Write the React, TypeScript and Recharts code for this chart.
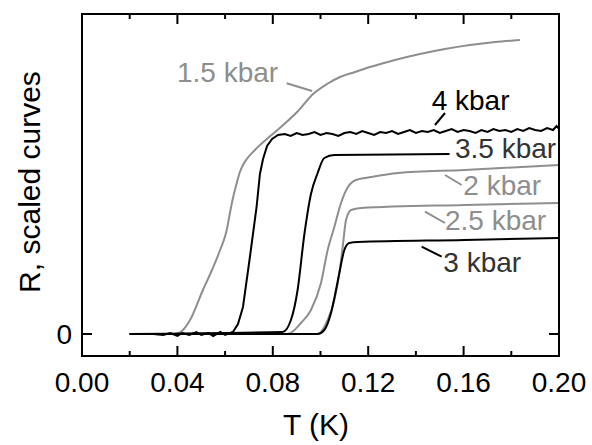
import { LineChart, Line, XAxis, YAxis, ReferenceLine, ReferenceDot } from "recharts";

// temperature (K) and scaled resistance (arb. units, 0 = superconducting)
const t15 = [
  0.02, 0.039, 0.0419, 0.0453, 0.0507, 0.0545, 0.0579, 0.0607, 0.0621, 0.0633, 0.065, 0.0662,
  0.0675, 0.0691, 0.0725, 0.078, 0.0839, 0.0906, 0.0969, 0.1027, 0.1082, 0.1145, 0.1208, 0.1312,
  0.1417, 0.1522, 0.1627, 0.1732, 0.1836,
];
const v15 = [
  0, 0, 3, 14, 44, 64, 84, 104, 122, 136, 152, 162,
  169, 175, 184, 196, 208, 223, 240, 250, 257, 262, 267, 274,
  280, 285, 289, 292, 294,
];

const t2 = [0.02, 0.0862, 0.0918, 0.096, 0.1002, 0.103, 0.1058, 0.1086, 0.1115, 0.1149, 0.1213, 0.1325, 0.1604, 0.2];
const v2 = [0, 0, 11, 24, 51, 84, 107, 131, 147, 154, 157, 161, 164, 169];

const t25 = [0.02, 0.0988, 0.103, 0.1058, 0.1079, 0.1093, 0.1107, 0.1128, 0.117, 0.1604, 0.2];
const v25 = [0, 0, 14, 34, 61, 87, 114, 124, 126, 129, 131];

const t3 = [0.02, 0.0988, 0.1016, 0.1044, 0.1065, 0.1079, 0.11, 0.1121, 0.1157, 0.1604, 0.2];
const v3 = [0, 0, 4, 21, 44, 61, 84, 91, 92, 94, 96];

const t35 = [0.02, 0.0841, 0.0876, 0.0904, 0.0932, 0.096, 0.0988, 0.1016, 0.1058, 0.1541];
const v35 = [0, 2, 14, 44, 99, 140, 161, 176, 179, 180];

const t4 = [
  0.02, 0.03, 0.034, 0.037, 0.04, 0.042, 0.045, 0.048, 0.05, 0.053, 0.055, 0.058, 0.06, 0.062,
  0.0633, 0.0654, 0.0675, 0.0704, 0.0718, 0.0732, 0.0746, 0.0759, 0.0776, 0.0797, 0.0822,
  0.085, 0.0875, 0.09, 0.0925, 0.095, 0.0975, 0.1, 0.1025, 0.105, 0.1075, 0.11, 0.1125,
  0.115, 0.1175, 0.12, 0.1225, 0.125, 0.1275, 0.13, 0.1325, 0.135, 0.1375, 0.14, 0.1425,
  0.145, 0.1475, 0.15, 0.1525, 0.155, 0.1575, 0.16, 0.1625, 0.165, 0.1675, 0.17, 0.1725,
  0.175, 0.1775, 0.18, 0.1825, 0.185, 0.1875, 0.19, 0.1925, 0.195, 0.1975, 0.199, 0.2,
];
const v4 = [
  0, 0, -1, 1, -2, 1, -1, 2, -1, 1, -2, 2, -1, 1,
  2, 10, 27, 77, 102, 127, 160, 175, 188, 195, 199,
  200, 198, 201, 199, 200, 202, 199, 201, 200, 198, 201, 202,
  200, 203, 201, 199, 202, 201, 203, 200, 202, 204, 201, 203,
  202, 204, 201, 203, 205, 202, 204, 203, 201, 204, 202, 205,
  203, 204, 202, 205, 203, 206, 204, 203, 206, 204, 208, 205,
];

const xTicks = [0, 0.02, 0.04, 0.06, 0.08, 0.1, 0.12, 0.14, 0.16, 0.18, 0.2];
const yTicks = [0];

const X_DOMAIN: [number, number] = [0, 0.2];
const Y_DOMAIN: [number, number] = [-22, 320];

const W = 592;
const H = 445;
const MARGIN = { top: 14, right: 33, bottom: 49, left: 42 };
const X_AXIS_H = 40;
const Y_AXIS_W = 40;
const PLOT_LEFT = MARGIN.left + Y_AXIS_W;
const PLOT_TOP = MARGIN.top;
const PLOT_W = W - PLOT_LEFT - MARGIN.right;
const PLOT_H = H - PLOT_TOP - MARGIN.bottom - X_AXIS_H;

const pts = (t: number[], v: number[]) => t.map((x, i) => ({ t: x, v: v[i] }));

const FONT = "'Liberation Sans', Arial, sans-serif";
const GRAY = "#8e8e8e";
const DARK = "#333";

const isMajor = (v: number) => Math.round(v * 100) % 4 === 0;

// frame position of an axis value, used only for the frame decoration overlay
const fx = (t: number) => PLOT_LEFT + ((t - X_DOMAIN[0]) / (X_DOMAIN[1] - X_DOMAIN[0])) * PLOT_W;
const fy = (v: number) => PLOT_TOP + ((Y_DOMAIN[1] - v) / (Y_DOMAIN[1] - Y_DOMAIN[0])) * PLOT_H;

const BottomTick = ({ x, y, payload }: any) =>
  isMajor(payload.value) ? (
    <text x={x} y={y + 36} textAnchor="middle" fontSize={28} fontFamily={FONT} fill="#000">
      {payload.value.toFixed(2)}
    </text>
  ) : (
    <g />
  );

const LeftTick = ({ x, y, payload }: any) => (
  <text x={x - 10} y={y + 10} textAnchor="end" fontSize={28} fontFamily={FONT} fill="#000">
    {payload.value}
  </text>
);

const note = (text: string, color: string) => (props: any) => {
  const { x, y } = props.viewBox;
  return (
    <text x={x} y={y} fill={color} fontSize={28} fontFamily={FONT}>
      {text}
    </text>
  );
};

const lead = (color: string) => ({ stroke: color, strokeWidth: 2 });

// box with inward ticks on all four sides
function Frame() {
  const bottom = PLOT_TOP + PLOT_H;
  const right = PLOT_LEFT + PLOT_W;
  return (
    <svg
      width={W}
      height={H}
      style={{ position: "absolute", left: 0, top: 0, pointerEvents: "none" }}
    >
      <rect x={PLOT_LEFT} y={PLOT_TOP} width={PLOT_W} height={PLOT_H} fill="none" stroke="#000" strokeWidth={2} />
      {xTicks.map((t) => {
        const len = isMajor(t) ? 10 : 5;
        return (
          <g key={t}>
            <line x1={fx(t)} x2={fx(t)} y1={bottom} y2={bottom - len} stroke="#000" strokeWidth={2} />
            <line x1={fx(t)} x2={fx(t)} y1={PLOT_TOP} y2={PLOT_TOP + len} stroke="#000" strokeWidth={2} />
          </g>
        );
      })}
      {yTicks.map((v) => (
        <g key={v}>
          <line x1={PLOT_LEFT} x2={PLOT_LEFT + 10} y1={fy(v)} y2={fy(v)} stroke="#000" strokeWidth={2} />
          <line x1={right} x2={right - 10} y1={fy(v)} y2={fy(v)} stroke="#000" strokeWidth={2} />
        </g>
      ))}
    </svg>
  );
}

export default function App() {
  return (
    <div style={{ position: "absolute", left: 0, top: 0, width: W, height: H, background: "#fff" }}>
      <LineChart width={W} height={H} margin={MARGIN}>
        <XAxis
          type="number"
          dataKey="t"
          domain={X_DOMAIN}
          ticks={xTicks}
          height={X_AXIS_H}
          tickSize={0}
          tickMargin={0}
          tick={BottomTick}
          axisLine={{ stroke: "#000", strokeWidth: 2 }}
          tickLine={false}
          allowDataOverflow
        />
        <YAxis
          type="number"
          domain={Y_DOMAIN}
          ticks={yTicks}
          width={Y_AXIS_W}
          tickSize={0}
          tickMargin={0}
          tick={LeftTick}
          axisLine={{ stroke: "#000", strokeWidth: 2 }}
          tickLine={false}
          allowDataOverflow
        />

        <Line data={pts(t15, v15)} dataKey="v" type="monotone" stroke={GRAY} strokeWidth={2} dot={false} isAnimationActive={false} />
        <Line data={pts(t2, v2)} dataKey="v" type="monotone" stroke={GRAY} strokeWidth={2} dot={false} isAnimationActive={false} />
        <Line data={pts(t25, v25)} dataKey="v" type="monotone" stroke={GRAY} strokeWidth={2} dot={false} isAnimationActive={false} />
        <Line data={pts(t4, v4)} dataKey="v" type="linear" stroke="#000" strokeWidth={2} dot={false} isAnimationActive={false} />
        <Line data={pts(t35, v35)} dataKey="v" type="monotone" stroke="#000" strokeWidth={2} dot={false} isAnimationActive={false} />
        <Line data={pts(t3, v3)} dataKey="v" type="monotone" stroke="#000" strokeWidth={2} dot={false} isAnimationActive={false} />

        <ReferenceLine segment={[{ x: 0.0858, y: 250.7 }, { x: 0.0965, y: 243 }]} {...lead(GRAY)} />
        <ReferenceLine segment={[{ x: 0.148, y: 209 }, { x: 0.1522, y: 221 }]} {...lead("#000")} />
        <ReferenceLine segment={[{ x: 0.1522, y: 159 }, { x: 0.1592, y: 149 }]} {...lead(GRAY)} />
        <ReferenceLine segment={[{ x: 0.1438, y: 122.3 }, { x: 0.1522, y: 111 }]} {...lead(GRAY)} />
        <ReferenceLine segment={[{ x: 0.1424, y: 87.3 }, { x: 0.1508, y: 77.3 }]} {...lead("#000")} />

        <ReferenceDot x={0.0398} y={252} r={0} stroke="none" fill="none" label={note("1.5 kbar", GRAY)} />
        <ReferenceDot x={0.1466} y={224} r={0} stroke="none" fill="none" label={note("4 kbar", "#000")} />
        <ReferenceDot x={0.1564} y={176} r={0} stroke="none" fill="none" label={note("3.5 kbar", DARK)} />
        <ReferenceDot x={0.1599} y={139} r={0} stroke="none" fill="none" label={note("2 kbar", GRAY)} />
        <ReferenceDot x={0.1522} y={104} r={0} stroke="none" fill="none" label={note("2.5 kbar", GRAY)} />
        <ReferenceDot x={0.1515} y={62.3} r={0} stroke="none" fill="none" label={note("3 kbar", DARK)} />

        <text x={316} y={435} textAnchor="middle" fontSize={30} fontFamily={FONT} fill="#000">
          T (K)
        </text>
        <text
          x={40}
          y={182}
          textAnchor="middle"
          fontSize={30}
          fontFamily={FONT}
          fill="#000"
          transform="rotate(-90 40 182)"
        >
          R, scaled curves
        </text>
      </LineChart>
      <Frame />
    </div>
  );
}
